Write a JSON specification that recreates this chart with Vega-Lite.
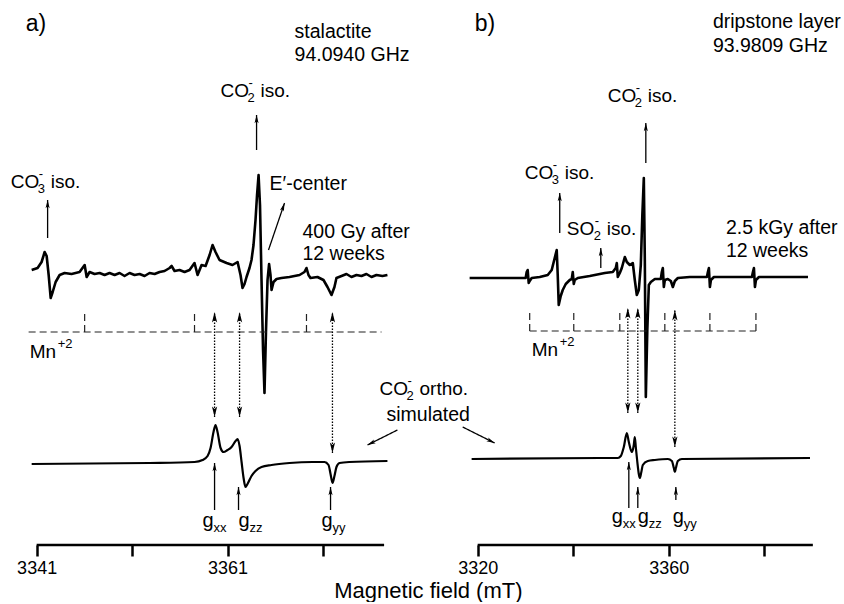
{
"$schema": "https://vega.github.io/schema/vega-lite/v6.json",
"background": "white",
"padding": {"left": 8, "top": 0, "right": 0, "bottom": 0},
"bounds": "flush",
"spacing": 21,
"config": {"view": {"stroke": null}, "font": "Liberation Sans"},
"title": {"text": "Magnetic field (mT)", "orient": "bottom", "anchor": "middle", "fontSize": 22, "fontWeight": "normal", "font": "Liberation Sans", "color": "black", "offset": 4, "dx": 4},
"datasets": {
"specA": [{"x":3340.48,"y":275},{"x":3341.10,"y":277},{"x":3341.52,"y":283},{"x":3341.84,"y":293},{"x":3342.05,"y":289},{"x":3342.26,"y":270},{"x":3342.47,"y":247},{"x":3342.68,"y":253},{"x":3342.99,"y":263},{"x":3343.41,"y":270},{"x":3343.93,"y":272},{"x":3344.66,"y":271},{"x":3345.50,"y":273},{"x":3346.03,"y":280},{"x":3346.24,"y":268},{"x":3346.55,"y":273},{"x":3347.07,"y":271},{"x":3347.60,"y":272},{"x":3348.12,"y":270},{"x":3348.64,"y":272},{"x":3349.17,"y":270},{"x":3349.69,"y":272},{"x":3350.21,"y":269},{"x":3350.74,"y":272},{"x":3351.26,"y":270},{"x":3351.79,"y":271},{"x":3352.31,"y":269},{"x":3352.83,"y":272},{"x":3353.36,"y":271},{"x":3353.88,"y":273},{"x":3354.40,"y":274},{"x":3354.93,"y":277},{"x":3355.14,"y":279},{"x":3355.45,"y":274},{"x":3355.97,"y":275},{"x":3356.50,"y":273},{"x":3357.02,"y":275},{"x":3357.54,"y":282},{"x":3357.86,"y":270},{"x":3358.28,"y":280},{"x":3358.70,"y":279},{"x":3359.12,"y":290},{"x":3359.43,"y":300},{"x":3359.74,"y":293},{"x":3360.16,"y":285},{"x":3360.90,"y":282},{"x":3361.52,"y":280},{"x":3362.05,"y":283},{"x":3362.36,"y":270},{"x":3362.57,"y":257},{"x":3362.78,"y":261},{"x":3362.99,"y":268},{"x":3363.30,"y":277},{"x":3363.51,"y":285},{"x":3363.72,"y":300},{"x":3363.93,"y":325},{"x":3364.09,"y":350},{"x":3364.25,"y":370},{"x":3364.40,"y":340},{"x":3364.56,"y":265},{"x":3364.72,"y":195},{"x":3364.87,"y":152},{"x":3365.03,"y":215},{"x":3365.19,"y":265},{"x":3365.35,"y":281},{"x":3365.50,"y":270},{"x":3365.61,"y":255},{"x":3365.82,"y":263},{"x":3366.13,"y":266},{"x":3366.65,"y":267},{"x":3367.49,"y":268},{"x":3368.54,"y":270},{"x":3369.06,"y":273},{"x":3369.27,"y":277},{"x":3369.48,"y":270},{"x":3369.69,"y":267},{"x":3370.42,"y":268},{"x":3371.05,"y":265},{"x":3371.47,"y":258},{"x":3371.89,"y":250},{"x":3372.20,"y":258},{"x":3372.41,"y":267},{"x":3372.94,"y":269},{"x":3373.46,"y":271},{"x":3373.98,"y":268},{"x":3374.51,"y":270},{"x":3375.03,"y":269},{"x":3375.55,"y":271},{"x":3376.08,"y":268},{"x":3376.60,"y":270},{"x":3377.23,"y":269},{"x":3377.75,"y":270}],
"simA": [{"x":3340.48,"y":81},{"x":3352.83,"y":82},{"x":3357.54,"y":83},{"x":3358.38,"y":85},{"x":3358.91,"y":89},{"x":3359.22,"y":97},{"x":3359.53,"y":113},{"x":3359.74,"y":120},{"x":3359.95,"y":113},{"x":3360.27,"y":97},{"x":3360.58,"y":93},{"x":3361.00,"y":95},{"x":3361.42,"y":98},{"x":3361.84,"y":104},{"x":3362.05,"y":106},{"x":3362.26,"y":99},{"x":3362.47,"y":83},{"x":3362.68,"y":67},{"x":3362.88,"y":58},{"x":3363.09,"y":61},{"x":3363.51,"y":69},{"x":3363.93,"y":74},{"x":3364.56,"y":78},{"x":3365.61,"y":80},{"x":3367.49,"y":82},{"x":3369.90,"y":83},{"x":3371.16,"y":83},{"x":3371.58,"y":80},{"x":3371.79,"y":71},{"x":3372.00,"y":62},{"x":3372.20,"y":69},{"x":3372.41,"y":78},{"x":3372.73,"y":82},{"x":3373.77,"y":83},{"x":3377.75,"y":84}],
"specB": [{"x":3318.32,"y":267},{"x":3328.81,"y":267},{"x":3330.06,"y":267},{"x":3330.27,"y":273},{"x":3330.48,"y":275},{"x":3330.69,"y":262},{"x":3330.90,"y":264},{"x":3331.32,"y":267},{"x":3333.00,"y":268},{"x":3334.68,"y":270},{"x":3335.51,"y":275},{"x":3336.14,"y":287},{"x":3336.56,"y":295},{"x":3336.77,"y":270},{"x":3336.98,"y":240},{"x":3337.40,"y":249},{"x":3337.82,"y":255},{"x":3338.45,"y":261},{"x":3339.29,"y":265},{"x":3339.71,"y":266},{"x":3339.92,"y":273},{"x":3340.13,"y":261},{"x":3340.34,"y":265},{"x":3340.96,"y":267},{"x":3343.48,"y":269},{"x":3345.58,"y":271},{"x":3346.62,"y":272},{"x":3348.30,"y":273},{"x":3348.93,"y":277},{"x":3349.14,"y":282},{"x":3349.35,"y":268},{"x":3349.77,"y":272},{"x":3350.19,"y":277},{"x":3350.82,"y":288},{"x":3351.24,"y":283},{"x":3351.87,"y":280},{"x":3352.49,"y":282},{"x":3352.91,"y":265},{"x":3353.33,"y":250},{"x":3353.75,"y":255},{"x":3354.17,"y":280},{"x":3354.49,"y":330},{"x":3354.80,"y":367},{"x":3355.01,"y":285},{"x":3355.22,"y":148},{"x":3355.53,"y":215},{"x":3355.85,"y":260},{"x":3356.27,"y":263},{"x":3357.11,"y":266},{"x":3358.36,"y":266},{"x":3358.57,"y":273},{"x":3358.78,"y":277},{"x":3358.99,"y":258},{"x":3359.20,"y":265},{"x":3359.83,"y":266},{"x":3360.46,"y":264},{"x":3360.88,"y":258},{"x":3361.30,"y":264},{"x":3361.93,"y":267},{"x":3364.44,"y":268},{"x":3368.01,"y":268},{"x":3368.22,"y":273},{"x":3368.43,"y":277},{"x":3368.64,"y":258},{"x":3368.85,"y":265},{"x":3369.48,"y":268},{"x":3377.44,"y":268},{"x":3377.65,"y":273},{"x":3377.86,"y":277},{"x":3378.07,"y":258},{"x":3378.28,"y":265},{"x":3378.91,"y":268},{"x":3389.18,"y":268}],
"simB": [{"x":3318.74,"y":86},{"x":3345.58,"y":87},{"x":3349.35,"y":87},{"x":3349.98,"y":89},{"x":3350.61,"y":98},{"x":3351.24,"y":112},{"x":3351.66,"y":103},{"x":3352.29,"y":93},{"x":3352.70,"y":100},{"x":3352.91,"y":108},{"x":3353.12,"y":98},{"x":3353.44,"y":83},{"x":3353.75,"y":71},{"x":3353.96,"y":67},{"x":3354.28,"y":73},{"x":3354.59,"y":80},{"x":3355.64,"y":84},{"x":3357.11,"y":85},{"x":3359.83,"y":86},{"x":3360.67,"y":84},{"x":3361.09,"y":77},{"x":3361.30,"y":73},{"x":3361.51,"y":77},{"x":3361.93,"y":84},{"x":3362.77,"y":86},{"x":3389.60,"y":87}],
"mnA": [{"x":3340.16,"y":213,"x2":3377.13,"y2":213},{"x":3346.03,"y":213,"x2":3346.03,"y2":232},{"x":3357.54,"y":213,"x2":3357.54,"y2":232},{"x":3369.27,"y":213,"x2":3369.27,"y2":232}],
"mnB": [{"x":3330.90,"y":214,"x2":3378.28,"y2":214},{"x":3330.90,"y":214,"x2":3330.90,"y2":233},{"x":3340.13,"y":214,"x2":3340.13,"y2":233},{"x":3349.77,"y":214,"x2":3349.77,"y2":233},{"x":3359.20,"y":214,"x2":3359.20,"y2":233},{"x":3368.64,"y":214,"x2":3368.64,"y2":233},{"x":3378.28,"y":214,"x2":3378.28,"y2":233}],
"baseA": [{"x":3341,"x2":3377.4,"y":0}],
"baseB": [{"x":3320,"x2":3390.2,"y":0}],
"arrA": [{"x":3364.04,"y":395,"x2":3364.04,"y2":430,"kind":"solid","both":false},{"x":3342.15,"y":307,"x2":3342.15,"y2":345,"kind":"solid","both":false},{"x":3365.29,"y":295,"x2":3366.97,"y2":342,"kind":"solid","both":false},{"x":3359.64,"y":128,"x2":3359.64,"y2":233,"kind":"dotted","both":true},{"x":3362.26,"y":128,"x2":3362.26,"y2":233,"kind":"dotted","both":true},{"x":3371.99,"y":92,"x2":3371.99,"y2":233,"kind":"dotted","both":true},{"x":3359.64,"y":35,"x2":3359.64,"y2":82,"kind":"solid","both":false},{"x":3362.15,"y":35,"x2":3362.15,"y2":58,"kind":"solid","both":false},{"x":3371.79,"y":35,"x2":3371.79,"y2":58,"kind":"solid","both":false},{"x":3378.80,"y":115,"x2":3375.66,"y2":100,"kind":"solid","both":false}],
"arrB": [{"x":3355.22,"y":382,"x2":3355.22,"y2":422,"kind":"solid","both":false},{"x":3337.19,"y":312,"x2":3337.19,"y2":352,"kind":"solid","both":false},{"x":3345.79,"y":277,"x2":3345.79,"y2":297,"kind":"solid","both":false},{"x":3351.45,"y":132,"x2":3351.45,"y2":237,"kind":"dotted","both":true},{"x":3353.54,"y":132,"x2":3353.54,"y2":237,"kind":"dotted","both":true},{"x":3361.30,"y":98,"x2":3361.30,"y2":235,"kind":"dotted","both":true},{"x":3351.66,"y":37,"x2":3351.66,"y2":83,"kind":"solid","both":false},{"x":3353.54,"y":37,"x2":3353.54,"y2":58,"kind":"solid","both":false},{"x":3361.51,"y":45,"x2":3361.51,"y2":58,"kind":"solid","both":false},{"x":3316.86,"y":118,"x2":3323.56,"y2":102,"kind":"solid","both":false}],
"txtA": [{"x":3368.02,"y":507,"label":"stalactite"},{"x":3368.02,"y":484,"label":"94.0940 GHz"},{"x":3368.85,"y":307,"label":"400 Gy after"},{"x":3368.85,"y":285,"label":"12 weeks"},{"x":3365.40,"y":355,"label":"E′-center"},{"x":3377.65,"y":124,"label":"simulated"}],
"txtB": [{"x":3369.27,"y":517,"label":"dripstone layer"},{"x":3369.27,"y":493,"label":"93.9809 GHz"},{"x":3371.99,"y":311,"label":"2.5 kGy after"},{"x":3371.99,"y":288,"label":"12 weeks"}],
"panA": [{"x":3339.85,"y":514,"label":"a)"}],
"panB": [{"x":3319.37,"y":514,"label":"b)"}],
"chemA": [{"x":3360.27,"y":448,"main":"CO","sub":"2","sup":"-","rest":"iso."},{"x":3338.28,"y":357,"main":"CO","sub":"3","sup":"-","rest":"iso."},{"x":3376.92,"y":150,"main":"CO","sub":"2","sup":"-","rest":"ortho."},{"x":3340.27,"y":187,"main":"Mn","sub":"","sup":"+2","rest":""}],
"chemB": [{"x":3347.25,"y":443,"main":"CO","sub":"2","sup":"-","rest":"iso."},{"x":3329.85,"y":366,"main":"CO","sub":"3","sup":"-","rest":"iso."},{"x":3338.66,"y":310,"main":"SO","sub":"2","sup":"-","rest":"iso."},{"x":3331.32,"y":189,"main":"Mn","sub":"","sup":"+2","rest":""}],
"gA": [{"x":3358.38,"y":18,"main":"g","sub":"xx"},{"x":3362.15,"y":18,"main":"g","sub":"zz"},{"x":3370.84,"y":18,"main":"g","sub":"yy"}],
"gB": [{"x":3348.09,"y":22,"main":"g","sub":"xx"},{"x":3353.54,"y":22,"main":"g","sub":"zz"},{"x":3360.88,"y":22,"main":"g","sub":"yy"}]
},
"hconcat": [
{
"width": 420, "height": 545,
"layer": [
{"data": {"name": "baseA"}, "mark": {"type": "rule", "color": "black", "strokeWidth": 2.5},
 "encoding": {"x": {"field": "x", "type": "quantitative", "scale": {"domain": [3338, 3382], "nice": false, "zero": false}, "axis": {"values": [3341, 3351, 3361, 3371], "format": "d", "labelExpr": "datum.value == 3341 || datum.value == 3361 ? datum.label : ''", "title": null, "domain": false, "grid": false, "ticks": true, "labels": true, "tickColor": "black", "tickWidth": 2.5, "tickSize": 11, "labelFont": "Liberation Sans", "labelFontSize": 18, "labelColor": "black", "labelPadding": 3, "labelFlush": false, "labelOverlap": false}},
  "x2": {"field": "x2"},
  "y": {"field": "y", "type": "quantitative", "scale": {"domain": [0, 545], "nice": false, "zero": false}, "axis": null}}},
{"data": {"name": "specA"}, "mark": {"type": "line", "color": "black", "strokeWidth": 2.6, "strokeJoin": "round"},
 "encoding": {"x": {"field": "x", "type": "quantitative"}, "y": {"field": "y", "type": "quantitative", "axis": null}}},
{"data": {"name": "simA"}, "mark": {"type": "line", "color": "black", "strokeWidth": 2.2, "interpolate": "monotone"},
 "encoding": {"x": {"field": "x", "type": "quantitative"}, "y": {"field": "y", "type": "quantitative", "axis": null}}},
{"data": {"name": "mnA"}, "mark": {"type": "rule", "color": "#222", "strokeWidth": 1.2, "strokeDash": [7, 4]},
 "encoding": {"x": {"field": "x", "type": "quantitative"}, "x2": {"field": "x2"}, "y": {"field": "y", "type": "quantitative", "axis": null}, "y2": {"field": "y2"}}},
{"data": {"name": "arrA"}, "mark": {"type": "rule", "color": "black", "strokeWidth": 1.3},
 "encoding": {"x": {"field": "x", "type": "quantitative"}, "x2": {"field": "x2"}, "y": {"field": "y", "type": "quantitative", "axis": null}, "y2": {"field": "y2"},
  "strokeDash": {"field": "kind", "type": "nominal", "scale": {"domain": ["solid", "dotted"], "range": [[1, 0], [1.5, 1.5]]}, "legend": null}}},
{"data": {"name": "arrA"}, "transform": [{"calculate": "atan2((datum.x2 - datum.x) * 9.545, datum.y2 - datum.y) * 180 / PI", "as": "ang"}],
 "mark": {"type": "point", "shape": "M0,0L-0.55,2.2L0,1.7L0.55,2.2Z", "filled": true, "color": "black", "opacity": 1},
 "encoding": {"x": {"field": "x2", "type": "quantitative"}, "y": {"field": "y2", "type": "quantitative", "axis": null}, "angle": {"field": "ang", "type": "quantitative", "scale": null},
  "size": {"field": "kind", "type": "nominal", "scale": {"domain": ["solid", "dotted"], "range": [56, 90]}, "legend": null}}},
{"data": {"name": "arrA"}, "transform": [{"filter": "datum.both"}, {"calculate": "atan2((datum.x - datum.x2) * 9.545, datum.y - datum.y2) * 180 / PI", "as": "ang"}],
 "mark": {"type": "point", "shape": "M0,0L-0.55,2.2L0,1.7L0.55,2.2Z", "filled": true, "color": "black", "opacity": 1, "size": 90},
 "encoding": {"x": {"field": "x", "type": "quantitative"}, "y": {"field": "y", "type": "quantitative", "axis": null}, "angle": {"field": "ang", "type": "quantitative", "scale": null}}},
{"data": {"name": "txtA"}, "mark": {"type": "text", "align": "left", "baseline": "alphabetic", "fontSize": 19.5, "font": "Liberation Sans", "color": "black"},
 "encoding": {"x": {"field": "x", "type": "quantitative"}, "y": {"field": "y", "type": "quantitative", "axis": null}, "text": {"field": "label"}}},
{"data": {"name": "panA"}, "mark": {"type": "text", "align": "left", "baseline": "alphabetic", "fontSize": 23, "font": "Liberation Sans", "color": "black"},
 "encoding": {"x": {"field": "x", "type": "quantitative"}, "y": {"field": "y", "type": "quantitative", "axis": null}, "text": {"field": "label"}}},
{"data": {"name": "chemA"}, "mark": {"type": "text", "align": "left", "baseline": "alphabetic", "fontSize": 19, "font": "Liberation Sans", "color": "black"},
 "encoding": {"x": {"field": "x", "type": "quantitative"}, "y": {"field": "y", "type": "quantitative", "axis": null}, "text": {"field": "main"}}},
{"data": {"name": "chemA"}, "mark": {"type": "text", "align": "left", "baseline": "alphabetic", "fontSize": 13, "font": "Liberation Sans", "color": "black", "dx": 27, "dy": 5},
 "encoding": {"x": {"field": "x", "type": "quantitative"}, "y": {"field": "y", "type": "quantitative", "axis": null}, "text": {"field": "sub"}}},
{"data": {"name": "chemA"}, "mark": {"type": "text", "align": "left", "baseline": "alphabetic", "fontSize": 13, "font": "Liberation Sans", "color": "black", "dx": 28, "dy": -10},
 "encoding": {"x": {"field": "x", "type": "quantitative"}, "y": {"field": "y", "type": "quantitative", "axis": null}, "text": {"field": "sup"}}},
{"data": {"name": "chemA"}, "mark": {"type": "text", "align": "left", "baseline": "alphabetic", "fontSize": 19, "font": "Liberation Sans", "color": "black", "dx": 40},
 "encoding": {"x": {"field": "x", "type": "quantitative"}, "y": {"field": "y", "type": "quantitative", "axis": null}, "text": {"field": "rest"}}},
{"data": {"name": "gA"}, "mark": {"type": "text", "align": "left", "baseline": "alphabetic", "fontSize": 20, "font": "Liberation Sans", "color": "black"},
 "encoding": {"x": {"field": "x", "type": "quantitative"}, "y": {"field": "y", "type": "quantitative", "axis": null}, "text": {"field": "main"}}},
{"data": {"name": "gA"}, "mark": {"type": "text", "align": "left", "baseline": "alphabetic", "fontSize": 13, "font": "Liberation Sans", "color": "black", "dx": 11, "dy": 5},
 "encoding": {"x": {"field": "x", "type": "quantitative"}, "y": {"field": "y", "type": "quantitative", "axis": null}, "text": {"field": "sub"}}}
]
},
{
"width": 382, "height": 545,
"layer": [
{"data": {"name": "baseB"}, "mark": {"type": "rule", "color": "black", "strokeWidth": 2.5},
 "encoding": {"x": {"field": "x", "type": "quantitative", "scale": {"domain": [3314, 3394], "nice": false, "zero": false}, "axis": {"values": [3320, 3340, 3360, 3380], "format": "d", "labelExpr": "datum.value == 3320 || datum.value == 3360 ? datum.label : ''", "title": null, "domain": false, "grid": false, "ticks": true, "labels": true, "tickColor": "black", "tickWidth": 2.5, "tickSize": 11, "labelFont": "Liberation Sans", "labelFontSize": 18, "labelColor": "black", "labelPadding": 3, "labelFlush": false, "labelOverlap": false}},
  "x2": {"field": "x2"},
  "y": {"field": "y", "type": "quantitative", "scale": {"domain": [0, 545], "nice": false, "zero": false}, "axis": null}}},
{"data": {"name": "specB"}, "mark": {"type": "line", "color": "black", "strokeWidth": 2.6, "strokeJoin": "round"},
 "encoding": {"x": {"field": "x", "type": "quantitative"}, "y": {"field": "y", "type": "quantitative", "axis": null}}},
{"data": {"name": "simB"}, "mark": {"type": "line", "color": "black", "strokeWidth": 2.2, "interpolate": "monotone"},
 "encoding": {"x": {"field": "x", "type": "quantitative"}, "y": {"field": "y", "type": "quantitative", "axis": null}}},
{"data": {"name": "mnB"}, "mark": {"type": "rule", "color": "#222", "strokeWidth": 1.2, "strokeDash": [7, 4]},
 "encoding": {"x": {"field": "x", "type": "quantitative"}, "x2": {"field": "x2"}, "y": {"field": "y", "type": "quantitative", "axis": null}, "y2": {"field": "y2"}}},
{"data": {"name": "arrB"}, "mark": {"type": "rule", "color": "black", "strokeWidth": 1.3},
 "encoding": {"x": {"field": "x", "type": "quantitative"}, "x2": {"field": "x2"}, "y": {"field": "y", "type": "quantitative", "axis": null}, "y2": {"field": "y2"},
  "strokeDash": {"field": "kind", "type": "nominal", "scale": {"domain": ["solid", "dotted"], "range": [[1, 0], [1.5, 1.5]]}, "legend": null}}},
{"data": {"name": "arrB"}, "transform": [{"calculate": "atan2((datum.x2 - datum.x) * 4.775, datum.y2 - datum.y) * 180 / PI", "as": "ang"}],
 "mark": {"type": "point", "shape": "M0,0L-0.55,2.2L0,1.7L0.55,2.2Z", "filled": true, "color": "black", "opacity": 1},
 "encoding": {"x": {"field": "x2", "type": "quantitative"}, "y": {"field": "y2", "type": "quantitative", "axis": null}, "angle": {"field": "ang", "type": "quantitative", "scale": null},
  "size": {"field": "kind", "type": "nominal", "scale": {"domain": ["solid", "dotted"], "range": [56, 90]}, "legend": null}}},
{"data": {"name": "arrB"}, "transform": [{"filter": "datum.both"}, {"calculate": "atan2((datum.x - datum.x2) * 4.775, datum.y - datum.y2) * 180 / PI", "as": "ang"}],
 "mark": {"type": "point", "shape": "M0,0L-0.55,2.2L0,1.7L0.55,2.2Z", "filled": true, "color": "black", "opacity": 1, "size": 90},
 "encoding": {"x": {"field": "x", "type": "quantitative"}, "y": {"field": "y", "type": "quantitative", "axis": null}, "angle": {"field": "ang", "type": "quantitative", "scale": null}}},
{"data": {"name": "txtB"}, "mark": {"type": "text", "align": "left", "baseline": "alphabetic", "fontSize": 19.5, "font": "Liberation Sans", "color": "black"},
 "encoding": {"x": {"field": "x", "type": "quantitative"}, "y": {"field": "y", "type": "quantitative", "axis": null}, "text": {"field": "label"}}},
{"data": {"name": "panB"}, "mark": {"type": "text", "align": "left", "baseline": "alphabetic", "fontSize": 23, "font": "Liberation Sans", "color": "black"},
 "encoding": {"x": {"field": "x", "type": "quantitative"}, "y": {"field": "y", "type": "quantitative", "axis": null}, "text": {"field": "label"}}},
{"data": {"name": "chemB"}, "mark": {"type": "text", "align": "left", "baseline": "alphabetic", "fontSize": 19, "font": "Liberation Sans", "color": "black"},
 "encoding": {"x": {"field": "x", "type": "quantitative"}, "y": {"field": "y", "type": "quantitative", "axis": null}, "text": {"field": "main"}}},
{"data": {"name": "chemB"}, "mark": {"type": "text", "align": "left", "baseline": "alphabetic", "fontSize": 13, "font": "Liberation Sans", "color": "black", "dx": 27, "dy": 5},
 "encoding": {"x": {"field": "x", "type": "quantitative"}, "y": {"field": "y", "type": "quantitative", "axis": null}, "text": {"field": "sub"}}},
{"data": {"name": "chemB"}, "mark": {"type": "text", "align": "left", "baseline": "alphabetic", "fontSize": 13, "font": "Liberation Sans", "color": "black", "dx": 28, "dy": -10},
 "encoding": {"x": {"field": "x", "type": "quantitative"}, "y": {"field": "y", "type": "quantitative", "axis": null}, "text": {"field": "sup"}}},
{"data": {"name": "chemB"}, "mark": {"type": "text", "align": "left", "baseline": "alphabetic", "fontSize": 19, "font": "Liberation Sans", "color": "black", "dx": 40},
 "encoding": {"x": {"field": "x", "type": "quantitative"}, "y": {"field": "y", "type": "quantitative", "axis": null}, "text": {"field": "rest"}}},
{"data": {"name": "gB"}, "mark": {"type": "text", "align": "left", "baseline": "alphabetic", "fontSize": 20, "font": "Liberation Sans", "color": "black"},
 "encoding": {"x": {"field": "x", "type": "quantitative"}, "y": {"field": "y", "type": "quantitative", "axis": null}, "text": {"field": "main"}}},
{"data": {"name": "gB"}, "mark": {"type": "text", "align": "left", "baseline": "alphabetic", "fontSize": 13, "font": "Liberation Sans", "color": "black", "dx": 11, "dy": 5},
 "encoding": {"x": {"field": "x", "type": "quantitative"}, "y": {"field": "y", "type": "quantitative", "axis": null}, "text": {"field": "sub"}}}
]
}
]
}
